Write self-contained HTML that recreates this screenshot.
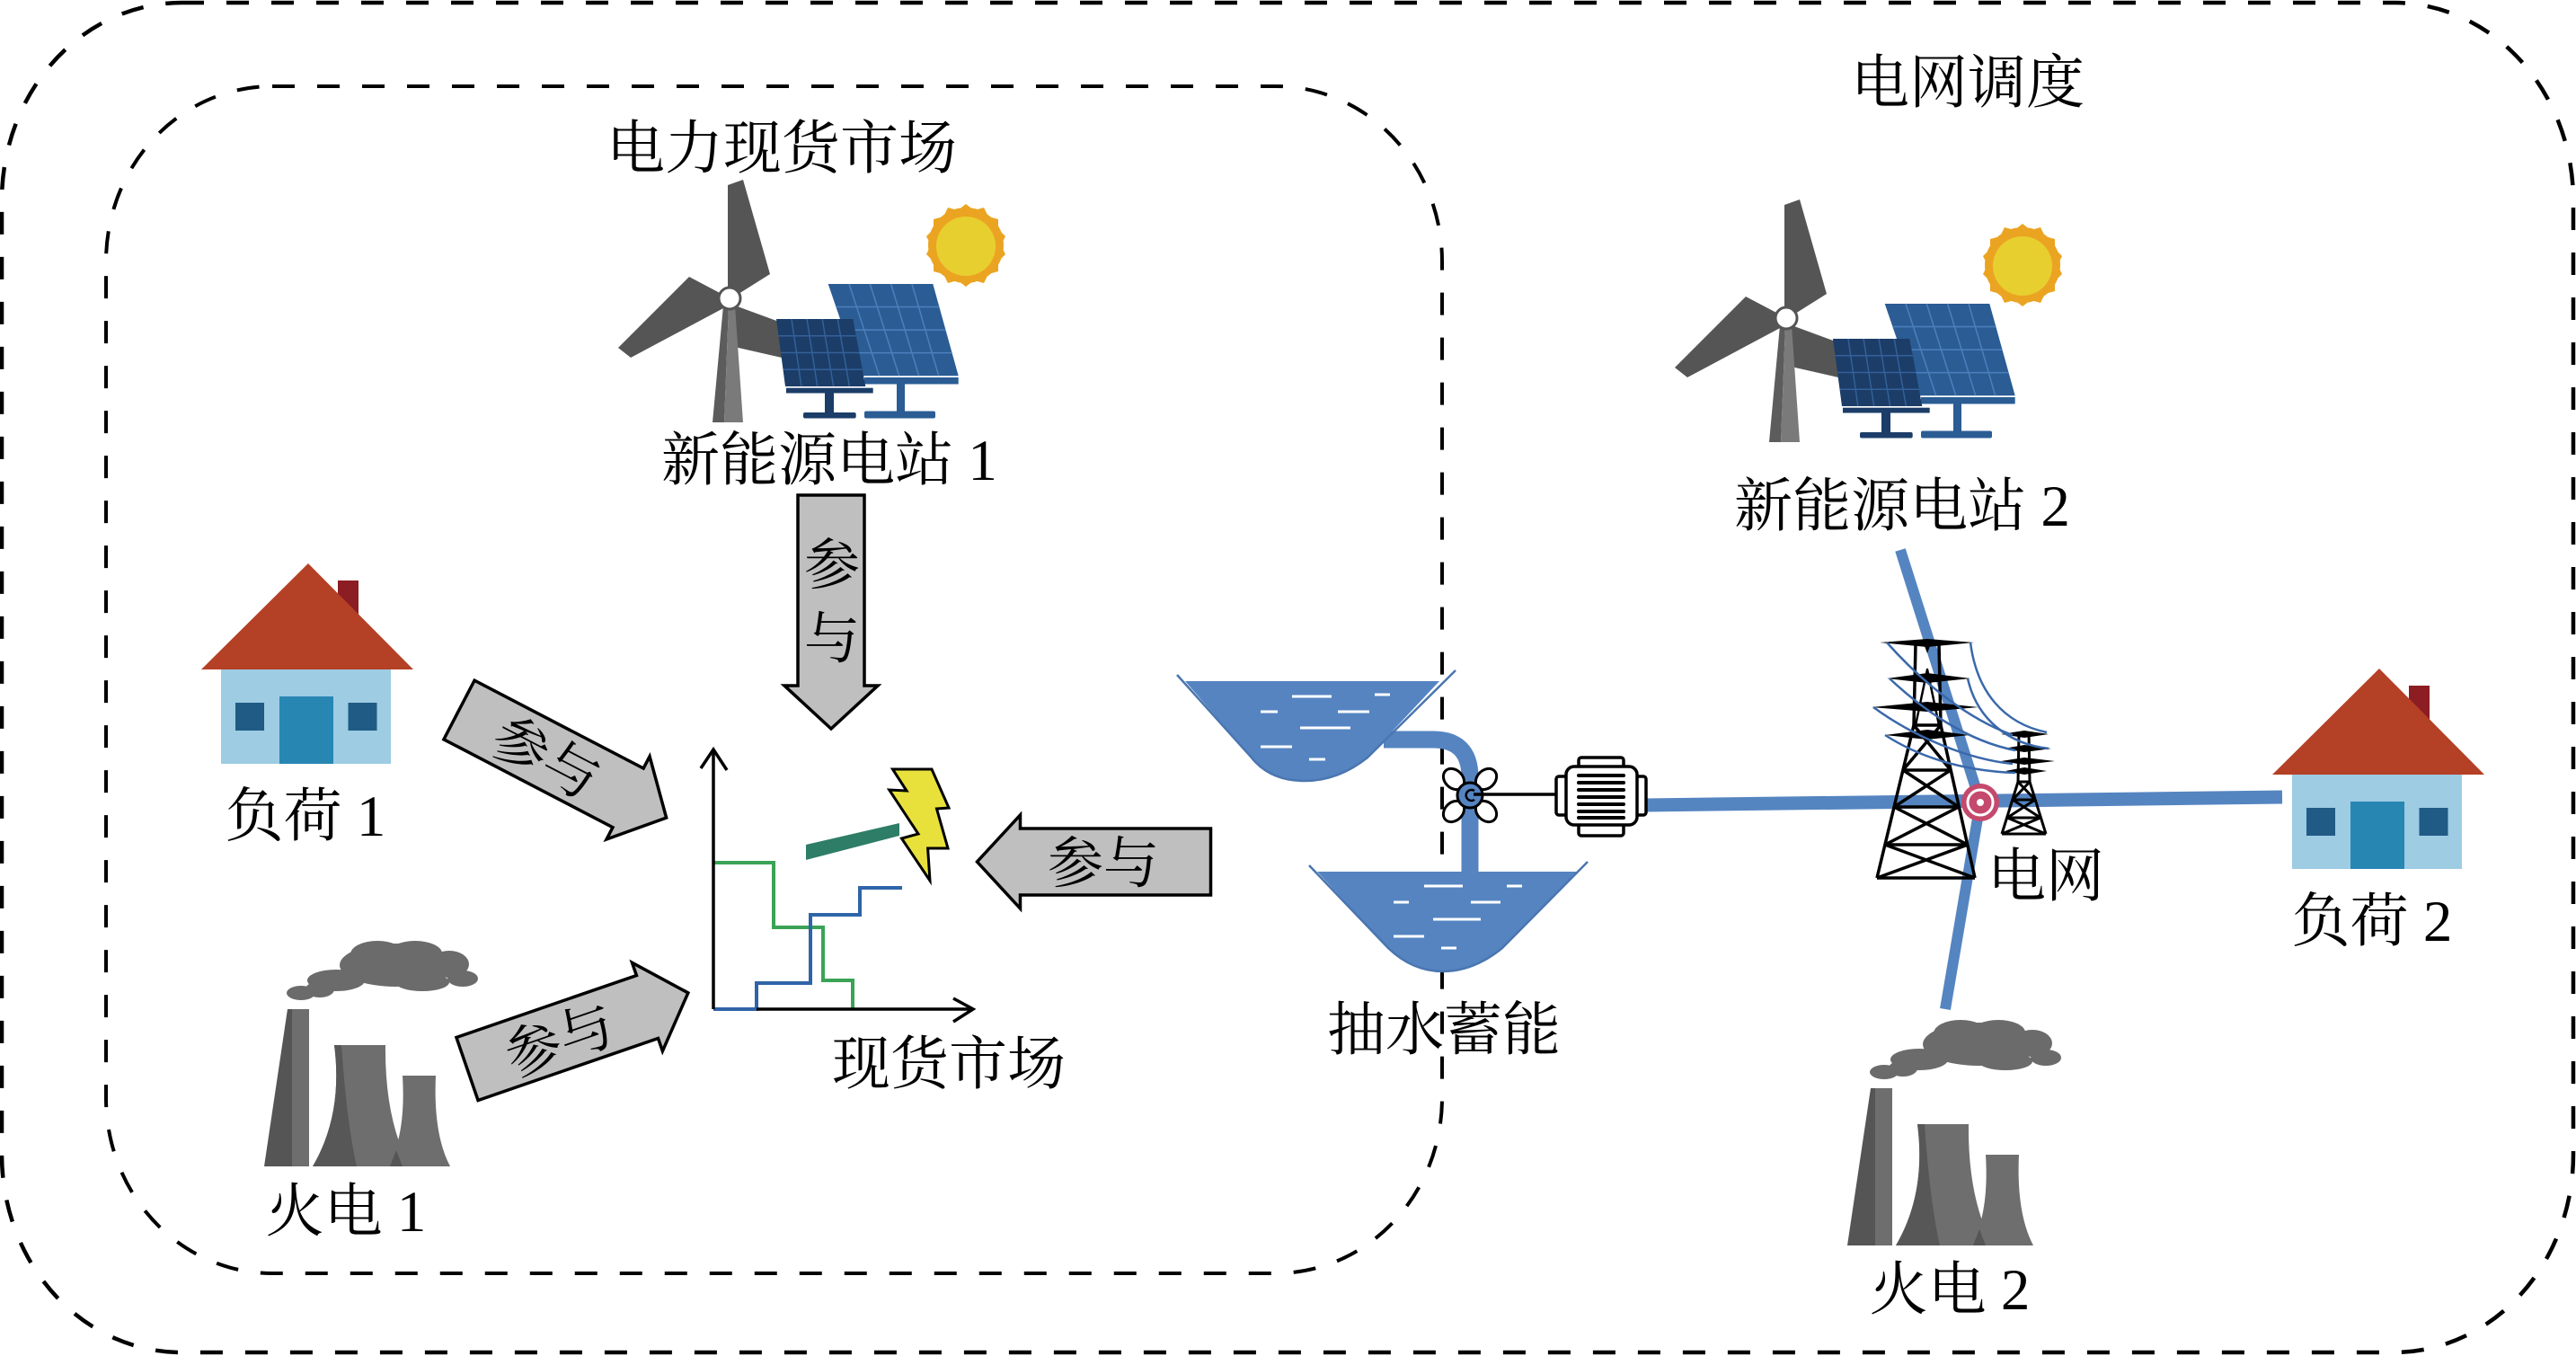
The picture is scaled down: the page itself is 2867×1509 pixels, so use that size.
<!DOCTYPE html>
<html><head><meta charset="utf-8"><style>
html,body{margin:0;padding:0;background:#fff;}
svg{display:block;}
text{font-family:"Liberation Serif","Noto Serif CJK SC",serif;fill:#000;}
</style></head><body>
<svg width="2867" height="1509" viewBox="0 0 2867 1509" xmlns="http://www.w3.org/2000/svg">
<defs>
  <g id="wind">
    <!-- blades -->
    <polygon points="810,330 810,206 827,200 857,305 822,327" fill="#555"/>
    <polygon points="803,327 767,308 688,387 702,398 807,342" fill="#555"/>
    <polygon points="818,340 867,358 870,398 813,385" fill="#555"/>
    <!-- tower -->
    <polygon points="805,340 811,340 806,470 793,470" fill="#5c5c5c"/>
    <polygon points="811,340 818,340 827,470 806,470" fill="#7a7a7a"/>
    <circle cx="812" cy="332" r="12" fill="#fff" stroke="#555" stroke-width="3"/>
    <!-- back panel -->
    <polygon points="921.7,316 1038.3,316 1066.7,418.3 956.7,418.3" fill="#2b5c94"/>
    <g stroke="#4a7ebb" stroke-width="1.6">
      <line x1="945" y1="316" x2="978.7" y2="418.3"/>
      <line x1="968.3" y1="316" x2="1000.7" y2="418.3"/>
      <line x1="991.6" y1="316" x2="1022.7" y2="418.3"/>
      <line x1="1015" y1="316" x2="1044.7" y2="418.3"/>
      <line x1="930.4" y1="341.6" x2="1045.4" y2="341.6"/>
      <line x1="939.2" y1="367.2" x2="1052.5" y2="367.2"/>
      <line x1="947.9" y1="392.7" x2="1059.6" y2="392.7"/>
    </g>
    <rect x="962" y="420" width="104.7" height="7.5" fill="#2b5c94"/>
    <rect x="998" y="427" width="9" height="32" fill="#2b5c94"/>
    <rect x="962" y="457.5" width="79" height="8" rx="2" fill="#2b5c94"/>
    <!-- front panel -->
    <polygon points="864,355 949.3,355 963.3,430 874,430" fill="#1b3d68"/>
    <g stroke="#34609a" stroke-width="1.5">
      <line x1="881" y1="355" x2="891.9" y2="430"/>
      <line x1="898.1" y1="355" x2="909.7" y2="430"/>
      <line x1="915.2" y1="355" x2="927.6" y2="430"/>
      <line x1="932.2" y1="355" x2="945.4" y2="430"/>
      <line x1="866.5" y1="373.8" x2="952.8" y2="373.8"/>
      <line x1="869" y1="392.5" x2="956.3" y2="392.5"/>
      <line x1="871.5" y1="411.3" x2="959.8" y2="411.3"/>
    </g>
    <rect x="875" y="431.7" width="96.7" height="5.8" fill="#1b3d68"/>
    <rect x="918" y="437" width="10" height="23" fill="#1b3d68"/>
    <rect x="894" y="459" width="58.7" height="6.5" rx="2" fill="#1b3d68"/>
    <!-- sun -->
    <polygon fill="#eba422" points="1075,227 1084,234 1095,231 1100,241 1111,244 1111,255 1119,263 1114,273 1119,283 1111,291 1111,302 1100,305 1095,315 1084,312 1075,319 1066,312 1055,315 1050,305 1039,302 1039,291 1031,283 1036,273 1031,263 1039,255 1039,244 1050,241 1055,231 1066,234"/>
    <circle cx="1075" cy="273" r="42" fill="#eba422"/>
    <circle cx="1075" cy="274" r="33" fill="#e8cf30"/>
  </g>
  <g id="house">
    <rect x="376" y="646" width="23" height="60" fill="#8c1d22"/>
    <polygon points="343,627 460,745 224,745" fill="#b44026"/>
    <rect x="246" y="745" width="189" height="105" fill="#9dcce3"/>
    <rect x="262" y="782" width="32" height="31" fill="#1f5b84"/>
    <rect x="387.5" y="782" width="32" height="31" fill="#1f5b84"/>
    <rect x="311" y="775" width="60" height="75" fill="#2886b3"/>
  </g>
  <g id="factory">
    <g fill="#6b6b6b">
      <ellipse cx="440" cy="1074" rx="62" ry="24"/>
      <ellipse cx="420" cy="1062" rx="30" ry="15"/>
      <ellipse cx="462" cy="1061" rx="30" ry="14"/>
      <ellipse cx="500" cy="1073" rx="22" ry="15"/>
      <ellipse cx="515" cy="1089" rx="17" ry="9"/>
      <ellipse cx="470" cy="1093" rx="30" ry="10"/>
      <ellipse cx="374" cy="1091" rx="32" ry="12"/>
      <ellipse cx="335" cy="1105" rx="16" ry="8"/>
      <ellipse cx="356" cy="1101" rx="16" ry="9"/>
    </g>
    <polygon points="320,1123 325,1123 325,1298 294,1298" fill="#555"/>
    <rect x="325" y="1123" width="19" height="175" fill="#6e6e6e"/>
    <path d="M372,1163 L429,1163 Q428,1245 456,1298 L348,1298 Q382,1240 372,1163 Z" fill="#6e6e6e"/>
    <path d="M372,1163 L380,1163 Q386,1250 397,1298 L348,1298 Q382,1240 372,1163 Z" fill="#575757"/>
    <path d="M448,1197 L485,1197 Q482,1262 501,1298 L432,1298 Q452,1262 448,1197 Z" fill="#6e6e6e"/>
    <path d="M441,1280 L448,1298 L434,1298 Z" fill="#555"/>
  </g>
  <g id="arrow">
    <polygon points="0,-37 212,-37 212,-52 260,0 212,52 212,37 0,37" fill="#bfbfbf" stroke="#000" stroke-width="3.5" stroke-linejoin="miter"/>
  </g>
</defs>

<!-- dashed frames -->
<rect x="2" y="3" width="2862" height="1502" rx="200" ry="220" fill="none" stroke="#000" stroke-width="4.5" stroke-dasharray="25 25"/>
<rect x="118" y="96" width="1487" height="1321" rx="185" ry="195" fill="none" stroke="#000" stroke-width="4" stroke-dasharray="25 25"/>

<!-- titles -->
<text x="870" y="187" font-size="65" text-anchor="middle">电力现货市场</text>
<text x="2190" y="114" font-size="65" text-anchor="middle">电网调度</text>

<!-- renewable stations -->
<use href="#wind"/>
<use href="#wind" transform="translate(1176,22)"/>
<text x="923" y="534" font-size="65" text-anchor="middle">新能源电站 1</text>
<text x="2117" y="585" font-size="65" text-anchor="middle">新能源电站 2</text>

<!-- houses -->
<use href="#house"/>
<use href="#house" transform="translate(2305,117)"/>
<text x="340" y="930" font-size="65" text-anchor="middle">负荷 1</text>
<text x="2640" y="1047" font-size="65" text-anchor="middle">负荷 2</text>

<!-- factories -->
<use href="#factory"/>
<use href="#factory" transform="translate(1762,88)"/>
<text x="385" y="1370" font-size="65" text-anchor="middle">火电 1</text>
<text x="2170" y="1457" font-size="65" text-anchor="middle">火电 2</text>

<!-- arrows -->
<use href="#arrow" transform="translate(925,551) rotate(90)"/>
<use href="#arrow" transform="translate(1347.5,959) rotate(180)"/>
<use href="#arrow" transform="translate(511,790) rotate(27.5)"/>
<use href="#arrow" transform="translate(520,1189.5) rotate(-19)"/>
<text x="926" y="650" font-size="62" text-anchor="middle">参</text>
<text x="926" y="732" font-size="62" text-anchor="middle">与</text>
<text x="1228" y="982" font-size="62" text-anchor="middle">参与</text>
<text x="0" y="0" font-size="62" text-anchor="middle" transform="translate(608,843) rotate(27.5) translate(0,22)">参与</text>
<text x="0" y="0" font-size="62" text-anchor="middle" transform="translate(623,1157) rotate(-19) translate(0,22)">参与</text>

<!-- chart -->
<g fill="none" stroke-width="4">
  <polyline points="794,960 861,960 861,1032 916,1032 916,1091 949,1091 949,1123" stroke="#3aa356"/>
  <polyline points="794,1123 842,1123 842,1094 902,1094 902,1018 957,1018 957,988 1004,988" stroke="#2f64a8"/>
</g>
<g fill="none" stroke="#000" stroke-width="3.5">
  <line x1="794" y1="1123" x2="794" y2="835"/>
  <polyline points="780,855 794,834 809,857"/>
  <line x1="842" y1="1123" x2="1083" y2="1123"/>
  <polyline points="1061,1111 1083,1123 1061,1137"/>
</g>
<polygon points="897,940 897,957 1001,930 1001,916" fill="#2e7d66"/>
<polygon points="993.5,856 1037,856 1056,899 1042.5,900 1055,944 1032.6,944 1035,980 1003.5,933 1022,928 989.7,879 1009,880" fill="#e8e13c" stroke="#000" stroke-width="3" stroke-linejoin="miter"/>
<text x="1056" y="1206" font-size="65" text-anchor="middle">现货市场</text>

<!-- pumped storage -->
<path d="M1540,823 L1595,823 Q1636,823 1636,865 L1636,972" fill="none" stroke="#5584c1" stroke-width="19"/>
<path d="M1319,758 L1602,758 L1522,843 Q1488,870 1449,869 Q1412,868 1392,842 Z" fill="#5584c1"/>
<path d="M1310,751 L1392,842 Q1412,868 1449,869 Q1488,870 1522,843 L1620,746" fill="none" stroke="#4a76b0" stroke-width="2.5"/>
<g stroke="#fff" stroke-width="3">
  <line x1="1438" y1="775" x2="1482" y2="775"/>
  <line x1="1530" y1="773" x2="1547" y2="773"/>
  <line x1="1403" y1="792" x2="1422" y2="792"/>
  <line x1="1489" y1="792" x2="1524" y2="792"/>
  <line x1="1447" y1="810" x2="1503" y2="810"/>
  <line x1="1403" y1="831" x2="1438" y2="831"/>
  <line x1="1457" y1="845" x2="1475" y2="845"/>
</g>
<path d="M1466,970 L1757,970 L1672,1055 Q1640,1081 1606,1081 Q1572,1081 1545,1055 Z" fill="#5584c1"/>
<path d="M1457,963 L1545,1055 Q1572,1081 1606,1081 Q1640,1081 1672,1055 L1767,959" fill="none" stroke="#4a76b0" stroke-width="2.5"/>
<g stroke="#fff" stroke-width="3">
  <line x1="1585" y1="986" x2="1628" y2="986"/>
  <line x1="1677" y1="986" x2="1694" y2="986"/>
  <line x1="1551" y1="1004" x2="1568" y2="1004"/>
  <line x1="1637" y1="1004" x2="1670" y2="1004"/>
  <line x1="1595" y1="1023" x2="1648" y2="1023"/>
  <line x1="1551" y1="1042" x2="1585" y2="1042"/>
  <line x1="1604" y1="1055" x2="1621" y2="1055"/>
</g>
<text x="1607" y="1168" font-size="65" text-anchor="middle">抽水蓄能</text>

<!-- power lines -->
<path d="M2115,612 L2204,893 L2165,1123" fill="none" stroke="#5585c1" stroke-width="12"/>
<line x1="1831" y1="896" x2="2540" y2="887" stroke="#5585c1" stroke-width="15"/>

<!-- pump -->
<g fill="#fff" stroke="#000" stroke-width="3">
  <ellipse cx="1618" cy="867" rx="13" ry="10" transform="rotate(45 1618 867)"/>
  <ellipse cx="1654" cy="867" rx="13" ry="10" transform="rotate(-45 1654 867)"/>
  <ellipse cx="1618" cy="903" rx="13" ry="10" transform="rotate(-45 1618 903)"/>
  <ellipse cx="1654" cy="903" rx="13" ry="10" transform="rotate(45 1654 903)"/>
</g>
<circle cx="1636" cy="885" r="14" fill="#5584c1" stroke="#000" stroke-width="3"/>
<path d="M1641,880 A6,6 0 1 0 1641,890" fill="none" stroke="#000" stroke-width="2.5"/>
<line x1="1640" y1="884" x2="1732" y2="884" stroke="#000" stroke-width="3.5"/>
<!-- motor -->
<g fill="#fff" stroke="#000" stroke-width="3.5">
  <rect x="1757" y="843" width="50" height="13" rx="3"/>
  <rect x="1757" y="917" width="50" height="13" rx="3"/>
  <rect x="1732" y="864" width="13" height="43" rx="3"/>
  <rect x="1820" y="864" width="12" height="43" rx="3"/>
  <rect x="1743" y="853" width="79" height="65" rx="9"/>
</g>
<g stroke="#000" stroke-width="4" stroke-linecap="round">
  <line x1="1757" y1="863" x2="1807" y2="863"/>
  <line x1="1757" y1="871" x2="1807" y2="871"/>
  <line x1="1757" y1="879" x2="1807" y2="879"/>
  <line x1="1757" y1="887" x2="1807" y2="887"/>
  <line x1="1757" y1="895" x2="1807" y2="895"/>
  <line x1="1757" y1="903" x2="1807" y2="903"/>
  <line x1="1757" y1="910" x2="1807" y2="910"/>
</g>

<!-- transmission towers -->
<g fill="none" stroke="#000" stroke-width="3.5" stroke-linejoin="round">
  <line x1="2132" y1="717" x2="2130" y2="807"/>
  <line x1="2158" y1="717" x2="2160" y2="807"/>
  <polyline points="2132,807 2145,745 2158,807" stroke-width="2.5"/>
  <line x1="2130" y1="807" x2="2089" y2="977"/>
  <line x1="2160" y1="807" x2="2198" y2="977"/>
  <line x1="2130" y1="807" x2="2160" y2="807"/>
  <line x1="2118" y1="857" x2="2171" y2="857"/>
  <line x1="2108" y1="898" x2="2180" y2="898"/>
  <line x1="2098" y1="940" x2="2190" y2="940"/>
  <line x1="2089" y1="977" x2="2198" y2="977"/>
  <line x1="2130" y1="807" x2="2171" y2="857"/>
  <line x1="2160" y1="807" x2="2118" y2="857"/>
  <line x1="2118" y1="857" x2="2180" y2="898"/>
  <line x1="2171" y1="857" x2="2108" y2="898"/>
  <line x1="2108" y1="898" x2="2190" y2="940"/>
  <line x1="2180" y1="898" x2="2098" y2="940"/>
  <line x1="2098" y1="940" x2="2198" y2="977"/>
  <line x1="2190" y1="940" x2="2089" y2="977"/>
</g>
<g fill="#000">
  <polygon points="2092,715 2145,711 2197,715 2145,720"/>
  <polygon points="2142,719 2148,719 2145,727"/>
  <polygon points="2100,755 2145,749 2193,755 2145,760"/>
  <polygon points="2083,787 2145,781 2202,787 2145,792"/>
  <polygon points="2098,818 2145,812 2192,818 2145,823"/>
</g>
<g fill="none" stroke="#000" stroke-width="3" stroke-linejoin="round">
  <line x1="2247" y1="815" x2="2246" y2="870"/>
  <line x1="2258" y1="815" x2="2259" y2="870"/>
  <line x1="2246" y1="870" x2="2228" y2="928"/>
  <line x1="2259" y1="870" x2="2277" y2="928"/>
  <line x1="2246" y1="870" x2="2259" y2="870"/>
  <line x1="2240" y1="890" x2="2265" y2="890"/>
  <line x1="2234" y1="910" x2="2271" y2="910"/>
  <line x1="2228" y1="928" x2="2277" y2="928"/>
  <line x1="2246" y1="870" x2="2265" y2="890"/>
  <line x1="2259" y1="870" x2="2240" y2="890"/>
  <line x1="2240" y1="890" x2="2271" y2="910"/>
  <line x1="2265" y1="890" x2="2234" y2="910"/>
  <line x1="2234" y1="910" x2="2277" y2="928"/>
  <line x1="2271" y1="910" x2="2228" y2="928"/>
</g>
<g fill="#000">
  <polygon points="2227,817 2253,813 2280,817 2253,821"/>
  <polygon points="2230,833 2253,829 2283,833 2253,837"/>
  <polygon points="2227,847 2253,843 2287,847 2253,851"/>
  <polygon points="2232,858 2253,854 2278,858 2253,862"/>
</g>
<g fill="none" stroke="#3a68aa" stroke-width="2.5">
  <path d="M2100,715 C2140,760 2190,800 2240,818"/>
  <path d="M2103,755 C2140,790 2190,825 2243,835"/>
  <path d="M2085,787 C2130,820 2190,845 2240,850"/>
  <path d="M2098,818 C2140,845 2190,858 2243,860"/>
  <path d="M2193,715 C2200,770 2230,805 2278,815"/>
  <path d="M2190,755 C2200,800 2235,828 2280,833"/>
</g>
<!-- grid node -->
<circle cx="2204" cy="893" r="21" fill="#c4496c"/>
<circle cx="2204" cy="893" r="14" fill="none" stroke="#fff" stroke-width="3"/>
<circle cx="2204" cy="893" r="4" fill="#fff"/>
<text x="2277" y="997" font-size="65" text-anchor="middle">电网</text>
</svg>
</body></html>
